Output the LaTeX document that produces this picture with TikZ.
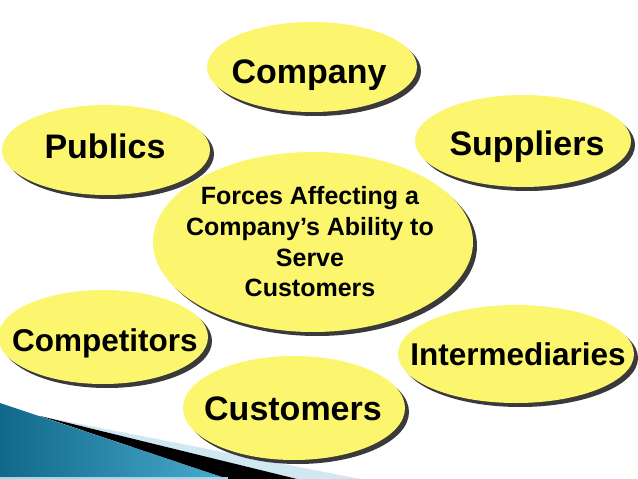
\documentclass[tikz,border=0pt]{standalone}
\usepackage{fontspec}
\setmainfont{Liberation Sans}
\usetikzlibrary{shapes.geometric,shadows}
\definecolor{blobyellow}{RGB}{252,246,110}
\definecolor{blobshadow}{RGB}{58,58,58}
\definecolor{swooshdark}{RGB}{16,104,138}
\definecolor{swooshlight}{RGB}{74,172,206}
\definecolor{swooshpale}{RGB}{208,232,242}
\definecolor{swooshcyan}{RGB}{150,220,238}
\tikzset{
  blob/.style={ellipse, fill=blobyellow, inner sep=0pt,
    drop shadow={shadow xshift=4pt, shadow yshift=-4pt, fill=blobshadow, opacity=1}},
  biglbl/.style={anchor=base, inner sep=0pt, font=\fontsize{34}{40}\selectfont\bfseries},
  midlbl/.style={anchor=base, inner sep=0pt, font=\fontsize{31.5}{38}\selectfont\bfseries},
  forceslbl/.style={inner sep=0pt, align=center, font=\fontsize{25}{30.7}\selectfont\bfseries},
}

\begin{document}
\begin{tikzpicture}[x=1pt, y=-1pt]
    \useasboundingbox (0,0) rectangle (638,479);

    \fill[swooshpale] (40,416) -- (360,479) -- (297,479) -- cycle;
    \shade[left color=swooshdark, right color=swooshlight] (0,403) -- (228,479) -- (0,479) -- cycle;
    \fill[black] (40,416) -- (297,479) -- (228,479) -- cycle;
    \fill[swooshcyan] (0,477) rectangle (228,479);

    \node[blob, minimum width=320pt, minimum height=180pt] (forces) at (313,242) {};
    \node[blob, minimum width=210pt, minimum height=90pt] (company) at (312,67) {};
    \node[blob, minimum width=208pt, minimum height=90pt] (publics) at (106,150) {};
    \node[blob, minimum width=216pt, minimum height=92pt] (suppliers) at (523,141) {};
    \node[blob, minimum width=210pt, minimum height=94pt] (competitors) at (103,337) {};
    \node[blob, minimum width=236pt, minimum height=98pt] (intermediaries) at (516,354) {};
    \node[blob, minimum width=222pt, minimum height=104pt] (customers) at (294,408) {};

    \node[forceslbl] (forces-text) at (310,242) {Forces Affecting a\\Company’s Ability to\\Serve\\Customers};
    \node[biglbl] (company-text) at (309,83) {Company};
    \node[biglbl] (publics-text) at (105,158) {Publics};
    \node[biglbl] (suppliers-text) at (527,155) {Suppliers};
    \node[midlbl] (competitors-text) at (105,351) {Competitors};
    \node[midlbl] (intermediaries-text) at (518,365) {Intermediaries};
    \node[biglbl] (customers-text) at (293,420) {Customers};
\end{tikzpicture}
\end{document}
